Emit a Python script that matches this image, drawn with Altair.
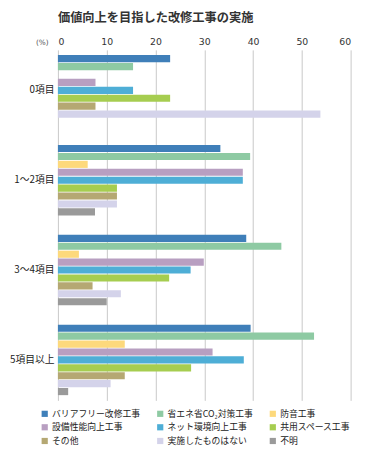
import altair as alt
import pandas as pd

groups = ["0項目", "1～2項目", "3～4項目", "5項目以上"]
series = ["バリアフリー改修工事", "省エネ省CO₂対策工事", "防音工事",
          "設備性能向上工事", "ネット環境向上工事", "共用スペース工事",
          "その他", "実施したものはない", "不明"]
colors = ["#3f7fb9", "#8ecaa3", "#fdd97c", "#b89fc1", "#4eaed6",
          "#a6cd50", "#b5a873", "#d4d3ea", "#9a9a9a"]

values = {
    "0項目":    [23.0, 15.4, 0.0, 7.7, 15.4, 23.0, 7.7, 53.8, 0.0],
    "1～2項目": [33.3, 39.4, 6.1, 37.9, 37.9, 12.1, 12.1, 12.1, 7.6],
    "3～4項目": [38.6, 45.8, 4.3, 29.9, 27.2, 22.8, 7.1, 12.9, 10.0],
    "5項目以上": [39.5, 52.5, 13.7, 31.7, 38.1, 27.3, 13.7, 10.8, 2.1],
}

rows = []
for g in groups:
    for s, v in zip(series, values[g]):
        rows.append({"group": g, "series": s, "value": v})
df = pd.DataFrame(rows)

JP = "Noto Sans CJK JP"

chart = alt.Chart(df).mark_bar().encode(
    x=alt.X("value:Q",
            scale=alt.Scale(domain=[0, 60], nice=False),
            axis=alt.Axis(orient="top", values=[0, 10, 20, 30, 40, 50, 60],
                          tickSize=0, domain=False, labelPadding=3,
                          labelFont="DejaVu Sans", labelFontSize=9.5,
                          labelColor="#333333",
                          gridColor="#c8c8c8", gridWidth=1,
                          title="(%)", titleFont="DejaVu Sans",
                          titleFontSize=7.5, titleFontWeight="normal",
                          titleColor="#555555", titleX=-10, titleY=-3,
                          titleAlign="right", titleBaseline="bottom",
                          titleAnchor="start")),
    y=alt.Y("group:N", sort=groups,
            scale=alt.Scale(paddingInner=0.216, paddingOuter=0.058),
            axis=alt.Axis(title=None, tickSize=0, domain=False,
                          labelPadding=4, labelFont=JP, labelFontSize=10,
                          labelColor="#222222", grid=False)),
    yOffset=alt.YOffset("series:N", sort=series,
                        scale=alt.Scale(domain=series, paddingInner=0.1,
                                        paddingOuter=0)),
    color=alt.Color("series:N", sort=series,
                    scale=alt.Scale(domain=series, range=colors),
                    legend=alt.Legend(orient="none", legendX=-18, legendY=367,
                                      direction="horizontal",
                                      columns=3, title=None,
                                      symbolType="square", symbolSize=40,
                                      symbolStrokeWidth=0,
                                      labelFont=JP, labelFontSize=9,
                                      labelColor="#222222", labelLimit=200,
                                      columnPadding=15, rowPadding=4,
                                      symbolOffset=0, labelOffset=3)),
).properties(
    width=299, height=358,
    title=alt.TitleParams("価値向上を目指した改修工事の実施", anchor="start",
                          frame="group",
                          font=JP, fontSize=12.5, fontWeight="bold",
                          color="#333333", offset=13),
    autosize=alt.AutoSizeParams(type="none"),
    padding={"left": 51, "top": 38, "right": 30, "bottom": 50},
).configure_view(stroke=None)

chart.save("out.html", embed_options={"renderer": "svg", "actions": False})
